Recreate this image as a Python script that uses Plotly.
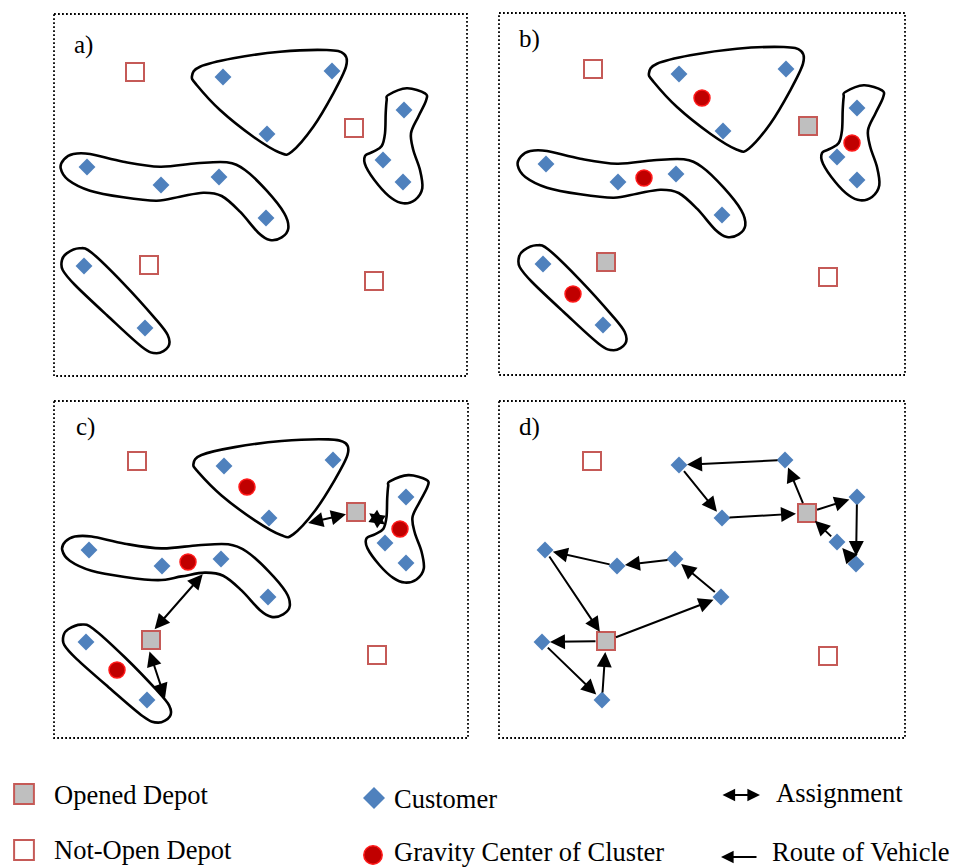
import plotly.graph_objects as go

# ---------------- DATA (pixel space of the original figure) ----------------
# Panel frames: x0, x1, y0, y1
panel_names = ["a)", "b)", "c)", "d)"]
panel_x0 = [54, 499, 54, 499]
panel_x1 = [467, 905, 468, 905]
panel_y0 = [14, 13, 401, 401]
panel_y1 = [376, 375, 738, 738]
label_x = [72, 517, 74, 517]
label_y = [45, 39, 427, 427]

# Panel a
a_cust_x = [223, 332, 267, 404, 383, 403, 87, 161, 219, 266, 84, 145]
a_cust_y = [77, 71, 134, 110, 160, 182, 167, 185, 177, 218, 266, 328]
a_closed_x = [135, 354, 149, 374]
a_closed_y = [72, 128, 265, 281]

# Panel b
b_cust_x = [679, 786, 723, 857, 837, 857, 546, 618, 676, 722, 543, 603]
b_cust_y = [74, 69, 131, 108, 157, 180, 164, 182, 174, 215, 264, 325]
b_open_x = [808, 606]
b_open_y = [126, 262]
b_closed_x = [593, 828]
b_closed_y = [69, 277]
b_grav_x = [702, 644, 852, 573]
b_grav_y = [98, 178, 143, 294]

# Panel c
c_cust_x = [224, 333, 269, 406, 385, 406, 89, 162, 221, 268, 86, 147]
c_cust_y = [466, 460, 518, 497, 543, 563, 550, 566, 559, 597, 642, 700]
c_open_x = [356, 151]
c_open_y = [512, 640]
c_closed_x = [137, 377]
c_closed_y = [461, 655]
c_grav_x = [247, 188, 400, 117]
c_grav_y = [487, 562, 529, 670]
# assignment arrows (both ends)
assign_x0 = [306.7, 367.7, 153.3, 149]
assign_y0 = [523.3, 512.3, 630.7, 650]
assign_x1 = [346, 385, 202.7, 165]
assign_y1 = [514.3, 524.5, 574.3, 698.3]

# Panel d
d_cust_x = [679, 785, 722, 857, 837, 856, 545, 617, 675, 721, 542, 602]
d_cust_y = [465, 460, 518, 497, 542, 564, 550, 566, 559, 597, 642, 700]
d_open_x = [807, 606]
d_open_y = [513, 641]
d_closed_x = [592, 828]
d_closed_y = [461, 656]
# routes: node ids, "D0"/"D1" = opened depots, ints = customers
route_from = ["D0", 1, 0, 2, "D0", 3, 5, 4, "D1", 9, 8, 7, 6, "D1", 10, 11]
route_to = [1, 0, 2, "D0", 3, 5, 4, "D0", 9, 8, 7, 6, "D1", 10, 11, "D1"]

# Cluster outlines (control points, drawn for panel a; reused in b and c)
clu_triangle = [(192, 76), (200, 66.7), (233.3, 58.3), (280, 51.7), (326.7, 50), (344, 54),
                (346, 66.7), (333.3, 93.3), (313.3, 126.7), (291.7, 151.7), (280, 152.7),
                (253.3, 136.7), (220, 110), (196.7, 85)]
clu_right = [(388.3, 95), (406.7, 88.3), (425, 93.3), (426, 100.7), (418.3, 116.7), (411, 133.3),
             (413.3, 150), (420, 170), (422.3, 188.3), (415, 200), (403.3, 203.3), (391.7, 198.3),
             (378.3, 185), (366, 166.7), (365, 156), (373.3, 151.7), (381.7, 146), (385, 133.3),
             (385.7, 113.3), (386.7, 100)]
clu_long = [(73.3, 154), (90, 154), (123.3, 161.7), (160, 166.7), (196.7, 163.3), (226.7, 162.3),
            (245, 170), (266.7, 190.7), (284.3, 213.3), (288.3, 228.3), (281.7, 237.3), (270, 240),
            (258.3, 232.7), (240, 211.7), (221.7, 196), (203.3, 192.7), (180, 196.7), (156.7, 200.7),
            (123.3, 197.3), (90, 190.7), (68.3, 180), (60.7, 168.3), (64, 159.3)]
clu_low = [(66.7, 253.3), (79.3, 248.3), (91.7, 252.7), (123.3, 283.3), (155, 318.3), (167.7, 335),
           (168.3, 346.7), (156.7, 353.3), (141.7, 346.7), (106.7, 315), (75, 285), (62.7, 270),
           (62, 260)]

# Legend
legend_labels = ["Opened Depot", "Not-Open Depot", "Customer", "Gravity Center of Cluster",
                 "Assignment", "Route of Vehicle"]
legend_text_x = [52, 52, 392, 392, 774, 770]
legend_text_y = [795, 850, 799, 852, 793, 852]

# ---------------- STYLE ----------------
C_CUST = "#4F81BD"
C_DEPOT_LINE = "#C55A57"
C_DEPOT_FILL = "#BFBFBF"
C_GRAV = "#C00000"
C_GRAV_LINE = "#FF1A1A"
FONT = "Liberation Serif"

fig = go.Figure()
shapes = []
annotations = []


def closed_path(pts):
    n = len(pts)
    s = "M %.2f,%.2f" % pts[0]
    for i in range(n):
        p0, p1, p2, p3 = pts[i - 1], pts[i], pts[(i + 1) % n], pts[(i + 2) % n]
        c1 = (p1[0] + (p2[0] - p0[0]) / 6, p1[1] + (p2[1] - p0[1]) / 6)
        c2 = (p2[0] - (p3[0] - p1[0]) / 6, p2[1] - (p3[1] - p1[1]) / 6)
        s += " C %.2f,%.2f %.2f,%.2f %.2f,%.2f" % (c1[0], c1[1], c2[0], c2[1], p2[0], p2[1])
    return s + " Z"


panel_transforms = [
    lambda p: (p[0], p[1]),
    lambda p: (p[0] + 457, p[1] - 3),
    lambda p: (p[0] + 1.5, 459 + (p[1] - 71) * 0.934),
]
for tf in panel_transforms:
    for clu in (clu_triangle, clu_right, clu_long, clu_low):
        shapes.append(dict(type="path", path=closed_path([tf(p) for p in clu]),
                           xref="x", yref="y", line=dict(color="black", width=2.6),
                           fillcolor="rgba(0,0,0,0)", layer="below"))

for i in range(4):
    shapes.append(dict(type="rect", xref="x", yref="y", x0=panel_x0[i], x1=panel_x1[i],
                       y0=panel_y0[i], y1=panel_y1[i], layer="below",
                       line=dict(color="black", width=1.8, dash="1.8px,2.2px")))
    annotations.append(dict(x=label_x[i], y=label_y[i], xref="x", yref="y", text=panel_names[i],
                            showarrow=False, xanchor="left", yanchor="middle",
                            font=dict(family=FONT, size=25, color="black")))


def add_pts(xs, ys, kind, size_scale=1.0):
    if kind == "cust":
        m = dict(symbol="diamond", size=13 * size_scale, color=C_CUST, line=dict(width=0))
    elif kind == "open":
        m = dict(symbol="square", size=18 * size_scale, color=C_DEPOT_FILL,
                 line=dict(color=C_DEPOT_LINE, width=2))
    elif kind == "closed":
        m = dict(symbol="square", size=18 * size_scale, color="white",
                 line=dict(color=C_DEPOT_LINE, width=2))
    else:
        m = dict(symbol="circle", size=16 * size_scale, color=C_GRAV,
                 line=dict(color=C_GRAV_LINE, width=1.5))
    fig.add_trace(go.Scatter(x=xs, y=ys, mode="markers", marker=m, hoverinfo="skip",
                             showlegend=False))


add_pts(a_closed_x, a_closed_y, "closed")
add_pts(a_cust_x, a_cust_y, "cust")
add_pts(b_closed_x, b_closed_y, "closed")
add_pts(b_open_x, b_open_y, "open")
add_pts(b_cust_x, b_cust_y, "cust")
add_pts(b_grav_x, b_grav_y, "grav")
add_pts(c_closed_x, c_closed_y, "closed")
add_pts(c_open_x, c_open_y, "open")
add_pts(c_cust_x, c_cust_y, "cust")
add_pts(c_grav_x, c_grav_y, "grav")
add_pts(d_closed_x, d_closed_y, "closed")
add_pts(d_open_x, d_open_y, "open")
add_pts(d_cust_x, d_cust_y, "cust")

ARW = dict(arrowhead=2, arrowsize=1.5, arrowwidth=2, arrowcolor="black", showarrow=True,
           xref="x", yref="y", axref="x", ayref="y", text="")
ARW_LEG = dict(ARW, arrowsize=1.15, arrowwidth=2.2)

# assignment arrows (panel c)
for i in range(len(assign_x0)):
    annotations.append(dict(x=assign_x1[i], y=assign_y1[i], ax=assign_x0[i], ay=assign_y0[i],
                            arrowside="end+start", **ARW))


def node(n):
    if isinstance(n, str):
        k = int(n[1])
        return d_open_x[k], d_open_y[k], 11
    return d_cust_x[n], d_cust_y[n], 8


for f, t in zip(route_from, route_to):
    fx, fy, fs = node(f)
    tx, ty, ts = node(t)
    annotations.append(dict(x=tx, y=ty, ax=fx, ay=fy, standoff=ts, startstandoff=fs - 2, **ARW))

# legend
add_pts([24], [794], "open", 1.1)
add_pts([24], [850], "closed", 1.1)
add_pts([374], [798], "cust", 1.3)
add_pts([373], [855], "grav", 1.15)
annotations.append(dict(x=760, y=795, ax=721, ay=795, arrowside="end+start", **ARW_LEG))
annotations.append(dict(x=721, y=857, ax=758, ay=857, **ARW_LEG))
for i, lab in enumerate(legend_labels):
    annotations.append(dict(x=legend_text_x[i], y=legend_text_y[i], xref="x", yref="y", text=lab,
                            showarrow=False, xanchor="left", yanchor="middle",
                            font=dict(family=FONT, size=26.5, color="black")))

fig.update_layout(
    width=955, height=867, autosize=False,
    margin=dict(l=0, r=0, t=0, b=0),
    paper_bgcolor="white", plot_bgcolor="white",
    xaxis=dict(range=[0, 955], visible=False, fixedrange=True),
    yaxis=dict(range=[867, 0], visible=False, fixedrange=True),
    shapes=shapes, annotations=annotations, showlegend=False,
)
fig.write_html("out.html", config={"displayModeBar": False},
               post_script="document.body.style.margin='0';")
